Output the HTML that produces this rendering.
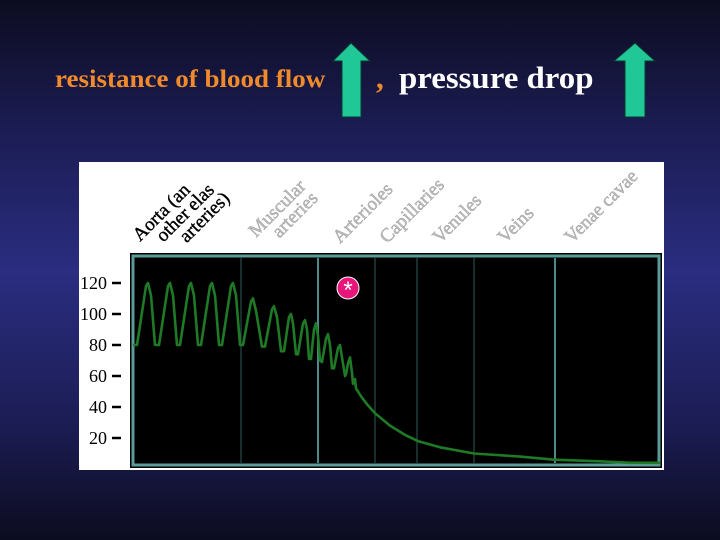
<!DOCTYPE html>
<html><head><meta charset="utf-8"><style>
html,body{margin:0;padding:0}
body{width:720px;height:540px;overflow:hidden;background:linear-gradient(180deg,#0c0c20 0%,#1c1d55 25%,#2a2d80 50%,#1c1d55 78%,#0c0c20 100%);font-family:"Liberation Serif",serif;position:relative}
.t{position:absolute;font-weight:bold;white-space:nowrap;line-height:1}
</style></head><body>
<div class="t" style="left:55px;top:67px;font-size:25px;color:#f08a2a;transform:scaleX(1.08);transform-origin:left">resistance of blood flow</div>
<div class="t" style="left:376px;top:62px;font-size:31px"><span style="color:#f08a2a">,</span>&nbsp; <span style="color:#fff;display:inline-block;transform:scaleX(1.06);transform-origin:left">pressure drop</span></div>
<svg width="720" height="540" style="position:absolute;left:0;top:0">
<polygon points="351,43 370,61 361,61 361,117 342,117 342,61 333,61" fill="#1fc896" stroke="#0a3a30" stroke-width="1"/>
<polygon points="635,43 655,61 645,61 645,117 625,117 625,61 614,61" fill="#1fc896" stroke="#0a3a30" stroke-width="1"/>
</svg>
<svg id="chart" width="720" height="540" style="position:absolute;left:0;top:0"></svg>
<script>
const categories=["Aorta (and other elastic arteries)","Muscular arteries","Arterioles","Capillaries","Venules","Veins","Venae cavae"];
const yTicks=[120,100,80,60,40,20];
const boundaries=[108,185,242,284,341,422];
const brightBoundaries=[185,422];
const distance=[0,4,13,15,18,22,26,35,37,40,44,47,56,58,61,65,68,77,79,82,86,89,98,100,103,107,110,118,120,123,129,132,139,141,144,148,151,156,158,160,163,165,170,172,174,176,178,181,183,185,187,189,193,195,197,199,201,205,207,209,212,213,215,217,219,220,222,223,229,235,242,257,272,285,307,341,387,421,467,497,527];
const pressure=[80,80,118,120,112,80,80,118,120,112,80,80,118,120,112,80,80,118,120,112,80,80,118,120,112,80,80,108,110,102,79,79,103,105,98,76,76,98,100,94,74,74,94,96,90,71,71,90,94,86,70,69,84,87,80,65,65,78,80,72,60,61,68,72,62,55,58,52,46,41,36,28,22,18,14,10,8,6,5,4,4];
const labelX=[140,256,340,387,440,505,572];
const labelY=[242,238,244,244,244,244,244];
const svg=document.getElementById('chart');
const NS='http://www.w3.org/2000/svg';
const X0=133,X1=660,Y0=469,PY=1.55;
const xs=d=>X0+d*(X1-X0)/527;
const ys=v=>Y0-v*PY;
function mk(t,a,p){const e=document.createElementNS(NS,t);for(const k in a)e.setAttribute(k,a[k]);(p||svg).appendChild(e);return e;}
const panel=mk('rect',{x:79,y:162,width:585,height:308,fill:'#fff'});


const frame=mk('rect',{x:130,y:253,width:532,height:215,fill:'#000'});


const inner=mk('rect',{x:133,y:256,width:526,height:209,fill:'#000',stroke:'#5a9c9a','stroke-width':3});


boundaries.forEach(b=>{const br=brightBoundaries.includes(b);
const l=mk('line',{x1:xs(b),x2:xs(b),y1:258,y2:463,stroke:br?'#4a8a88':'#2e5a58','stroke-width':br?2:1});

});
yTicks.forEach(v=>{const y=ys(v);
const t=mk('text',{x:107,y:y+6,'text-anchor':'end','font-size':18,fill:'#000','font-family':'Liberation Serif,serif',textLength:v>99?27:18});t.textContent=v;


const m=mk('line',{x1:112,x2:121,y1:y,y2:y,stroke:'#000','stroke-width':2.5});

});
categories.forEach((c,i)=>{
const t=mk('text',{transform:`translate(${labelX[i]},${labelY[i]}) rotate(-45)`,'font-size':19,fill:i==0?'#000':'#bdbdbd',stroke:i==0?'#000':'#999','stroke-width':0.4,'font-family':'Liberation Serif,serif'});


let parts=i==0?["Aorta (an","other elas","arteries)"]:(i==1?["Muscular","arteries"]:[c]);
parts.forEach((p,j)=>{const s=mk('tspan',{x:j*16,dy:j==0?0:17},t);s.textContent=p;});});
let d='';distance.forEach((x,i)=>{d+=(i?'L':'M')+xs(x).toFixed(1)+','+ys(pressure[i]).toFixed(1);});
const line=mk('path',{d:d,fill:'none',stroke:'#1f7a26','stroke-width':2.6,'stroke-linejoin':'round'});


const star=mk('circle',{cx:348,cy:288,r:11,fill:'#e8157a',stroke:'#fff','stroke-width':1});


const st=mk('text',{x:348,y:298,'text-anchor':'middle','font-size':24,fill:'#fff','font-family':'Liberation Sans,sans-serif'});st.textContent='*';


</script>
</body></html>
